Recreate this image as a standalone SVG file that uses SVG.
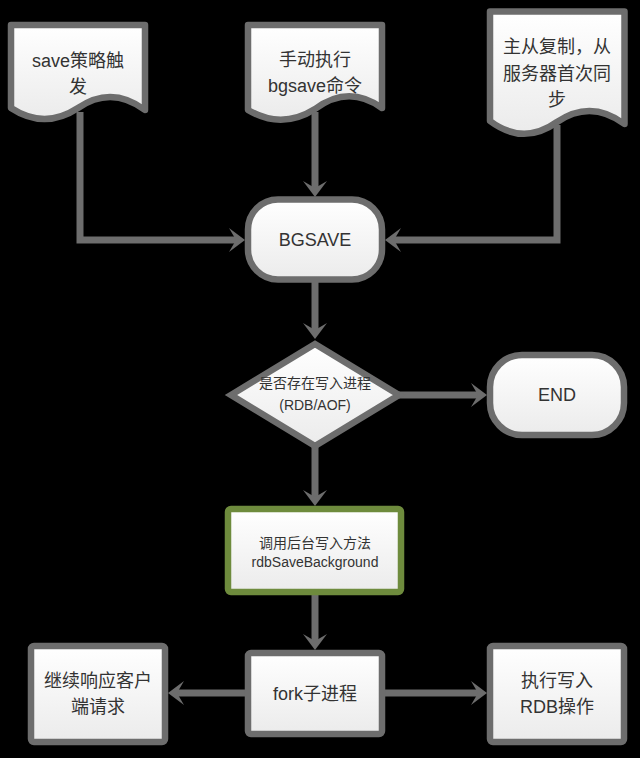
<svg xmlns="http://www.w3.org/2000/svg" width="640" height="758" viewBox="0 0 640 758">
<style>
.node{fill:url(#g);stroke:#6d6d6d;stroke-width:6.5;stroke-linejoin:round}
.green{stroke:#6e8b3d}
.dia{stroke-linejoin:miter}
.t{font-family:"Liberation Sans","Noto Sans CJK SC",sans-serif;font-size:18px;fill:#333;text-anchor:middle;dominant-baseline:central}
.s{font-size:14px}
.c{fill:none;stroke:#6d6d6d;stroke-width:7;stroke-linejoin:miter}
.a{marker-end:url(#arr)}
</style>
<defs>
<linearGradient id="g" x1="0" y1="0" x2="0" y2="1">
<stop offset="0" stop-color="#ffffff"/>
<stop offset="1" stop-color="#ebebeb"/>
</linearGradient>
<marker id="arr" markerUnits="userSpaceOnUse" viewBox="-8 -13 18 26" refX="0" refY="0" markerWidth="18" markerHeight="26" orient="auto">
<path d="M9,0 L-7,-12 L0,0 L-7,12 Z" fill="#6d6d6d"/>
</marker>
</defs>
<rect width="640" height="758" fill="#000"/>
<g id="connectors">
<path class="c a" d="M80,112 V240 H236"/>
<path class="c a" d="M315,112 V188"/>
<path class="c a" d="M557,125 V240 H394"/>
<path class="c a" d="M315,279 V330"/>
<path class="c a" d="M399,395 H478"/>
<path class="c a" d="M315,446 V497"/>
<path class="c a" d="M315,592 V641"/>
<path class="c a" d="M248,693 H177"/>
<path class="c a" d="M382,693 H478"/>
</g>
<g id="doc-save">
<path class="node" d="M11,25 H145 V110 Q111.5,85 78,108 Q44.5,130 11,108 Z"/>
<text class="t" x="78" y="61">save策略触</text>
<text class="t" x="78" y="87">发</text>
</g>
<g id="doc-manual">
<path class="node" d="M248,25 H382 V108 Q348.5,84 315,109 Q281.5,130 248,110 Z"/>
<text class="t" x="315" y="60">手动执行</text>
<text class="t" x="315" y="86">bgsave命令</text>
</g>
<g id="doc-sync">
<path class="node" d="M490,11.5 H624.5 V124 Q590.8,99 557,122 Q523.4,146 490,121 Z"/>
<text class="t" x="557" y="47">主从复制，从</text>
<text class="t" x="557" y="74">服务器首次同</text>
<text class="t" x="557" y="100">步</text>
</g>
<g id="bgsave">
<rect class="node" x="248" y="199.5" width="134" height="80" rx="30"/>
<text class="t" x="315" y="240">BGSAVE</text>
</g>
<g id="decision">
<path class="node dia" d="M231,395 L315,344 L399,395 L315,446 Z"/>
<text class="t s" x="315" y="383">是否存在写入进程</text>
<text class="t s" x="315" y="405">(RDB/AOF)</text>
</g>
<g id="end">
<rect class="node" x="490" y="355" width="134" height="80" rx="32"/>
<text class="t" x="557" y="395">END</text>
</g>
<g id="rdbSaveBackground">
<rect class="node green" x="228" y="509" width="173" height="83" rx="3"/>
<text class="t s" x="315" y="543">调用后台写入方法</text>
<text class="t s" x="315" y="562">rdbSaveBackground</text>
</g>
<g id="fork">
<rect class="node" x="248" y="653" width="134" height="81" rx="3"/>
<text class="t" x="315" y="694">fork子进程</text>
</g>
<g id="respond">
<rect class="node" x="31" y="646" width="134" height="96" rx="3"/>
<text class="t" x="98" y="681">继续响应客户</text>
<text class="t" x="98" y="707">端请求</text>
</g>
<g id="write-rdb">
<rect class="node" x="490" y="646" width="134" height="96" rx="3"/>
<text class="t" x="557" y="681">执行写入</text>
<text class="t" x="557" y="707">RDB操作</text>
</g>
</svg>
